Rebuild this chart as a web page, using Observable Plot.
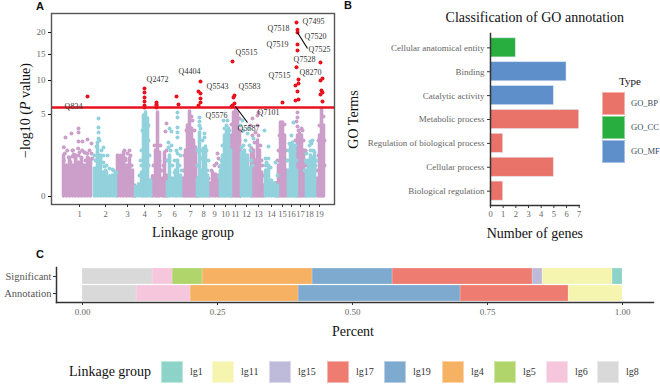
<!DOCTYPE html>
<html><head><meta charset="utf-8">
<script src="https://cdn.jsdelivr.net/npm/d3@7"></script>
<script src="https://cdn.jsdelivr.net/npm/@observablehq/plot@0.6"></script>
<style>
html,body{margin:0;padding:0;background:#fff}
#page{position:relative;width:660px;height:384px;overflow:hidden;font-family:"Liberation Serif",serif}
#page>svg,#page>div{position:absolute}
.tag{font:bold 11px "Liberation Sans",sans-serif;color:#111;line-height:11px}
.swatch{box-sizing:border-box;border:1px solid rgba(255,255,255,.45)}
.leg{white-space:nowrap;line-height:12px}
</style></head><body><div id="page"></div>
<script>
const serif = "Liberation Serif";
// ---- Panel A: Manhattan plot
const lgNames = ["1","2","3","4","5","6","7","8","9","10","11","12","13","14","15","16","17","18","19"];
const lgTicks = [28,54,76,93,108,123,139,152,163,174,184,195,207,220,231,240,249,258,268];
const yTicks = [0,5,10,15,20];
const threshold = 5.89;
// skyline of the dense mass of points (position, -log10 P reached)
const purplePos = [12,15,18,21,24,27,30,33,36,39, 66,69,72,75,78,81,83, 101,104,106,108,111,113,115, 132,134,136,138,140,142,144,146, 158,161,164,167, 180,182,184,186,188,189, 200,202,204,206,208,210,212, 225,227,229,231,233,235, 246,248,250,252,254, 266,268,270,272];
const purpleTop = [1.25,.71,1.07,.71,1.25,.86,1.07,.71,1.13,.96, 1.25,1.07,1.44,.71,1.07,.50,.09, .30,1.57,5.25,1.44,.24,1.44,.33, .24,1.57,3.75,5.37,3.44,2.33,1.79,.24, .13,.43,.36,.33, 2.77,5.25,5.76,5.25,3.24,.43, 1.71,1.57,.96,2.33,1.57,.43,.09, .13,.71,4.07,4.07,2.77,.50, 2.77,2.95,2.77,1.57,.24, .24,2.77,5.76,3.75];
const tealPos = [43,46,49,52,55,58,61,64, 84,87,90,92,94,96,99, 116,118,121,124,126,129, 146,148,150,152,154,156, 169,171,173,175,177,179, 190,193,196,199, 214,217,220,223,226, 237,239,241,243,245, 255,257,259,261,263];
const tealTop = [.58,1.93,1.25,.43,.43,.30,.33,.43, .07,.11,.43,4.88,5.25,4.52,.19, .15,1.25,.24,.50,.96,.33, .24,3.05,.50,1.71,1.86,.33, .50,1.25,2.77,3.24,3.44,1.57, 1.44,1.57,1.25,.58, .50,.71,.19,.13,.09, .50,1.93,2.17,1.71,.50, .50,.96,1.25,1.13,1.25];
// loose points around the mass
const purpleDotPos = [14,20,27,27,27,31,36,40,21,21,27,33,79,74,115,114,166,167,165,163,168,160,207,206,201,199,206,204,207,246,246,245,246,247,250,
  12.3,15.7,13.3,17.3,12.3,19,21.3,22.3,24,26.7,28,30.7,30,33.3,35.7,38,40,37.3,34,40.7,
  67,70,73,76,78,74,80,69, 102,109,108,110,103,112,115,115, 133,135,141,143,146,145,132,140, 157,
  179,179,188,189,190,180,188, 210,209,211,212,201,203, 226,227,228,234,236,233,235, 244,245,252,254,255,253,251, 265,267,267,273,273,268,272];
const purpleDotVal = [2.59,2.95,3.44,3.05,2.25,2.25,2.42,2.09,1.57,1.19,1.25,1.44,1.25,1.07,3.96,3.14,1.37,1.07,.81,.71,.67,.50,5.25,4.88,4.52,3.75,3.75,3.05,2.77,5.25,4.64,4.18,3.64,3.24,3.44,
  1.81,1.57,1.37,1.15,.96,.88,1.57,1.31,1.07,1.71,1.44,1.57,1.13,1.44,1.37,1.57,1.37,1.07,.96,1.07,
  .96,.81,1.57,1.37,1.57,.96,.71,1.25, .71,1.93,.96,.50,1.93,.71,.96,1.57, 1.25,3.24,4.30,3.24,1.57,.71,.50,4.76, .24,
  2.33,1.25,2.33,1.57,.71,3.86,4.52, .96,1.93,.71,.33,2.77,2.17, .96,1.57,2.77,1.57,.33,3.86,.96, 2.33,1.57,2.33,1.57,.71,.96,3.24, .50,2.33,1.25,2.33,.71,3.75,4.76];
const tealDotPos = [47,47,47,47,52,56,53,61,54,118,120,126,126,126,117,117,120,126,129,126,126,148,148,148,153,153,149,172,176,175,191,189,192,196,194,190,197,202,213,217,217,214,215,219,224,226,242,240,238,243,259,260,261,258,255,254,263,
  45,46,48,50,52,43,44,49,55,58,62,65,49,52, 90,89,90,91,97,97,98,97,88, 116,119,121,123,128,125,123,129,130, 146,146,150,150,155,157,151,156,
  168,170,171,178,173,169, 200,199,201,192,198, 214, 236,237,245,244, 253,255,265,264,259,262];
const tealDotVal = [4.52,3.54,3.05,2.50,1.79,1.25,.67,.54,.50,3.44,3.14,3.54,5.25,4.64,2.17,1.79,1.93,1.37,1.71,3.05,2.59,4.64,4.18,3.75,2.95,2.59,3.44,4.30,4.30,3.75,4.30,3.75,3.24,2.95,2.33,1.79,3.44,2.50,3.24,1.86,1.07,1.07,.86,.63,.86,.33,4.07,2.77,2.09,1.51,2.25,2.09,2.33,1.93,1.37,.96,1.44,
  1.86,2.17,2.33,1.57,1.25,1.25,.96,1.07,.71,.58,.50,.43,.71,.86, 1.57,.96,.71,3.24,3.75,2.33,1.25,.71,.33, .96,1.57,.71,.43,.71,1.57,.96,1.25,.50, .71,1.57,1.57,1.07,1.57,.96,2.33,.50,
  .30,.96,1.93,3.24,3.44,.71, .96,1.57,.71,1.93,1.93, .71, .96,1.57,.96,1.93, .50,.86,.96,.71,1.57,1.57];
// significant points
const redPos = [36,93,93,93,93,93,93,105,105,105,105,125,127,149,147,149,149,149,147,181,183,182,183,181,180,231,245,246,246,246,246,245,247,247,244,246,247,244,269,271,269,270,271,269,271];
const redVal = [7.44,8.67,8.04,7.29,6.71,6.16,5.89,6.57,6.3,6.16,5.89,7.44,6.29,9.84,8.2,7.89,7.14,6.57,6.16,13.55,7.59,7.29,6.43,6.16,6.02,6.57,22.5,20.7,20.0,17.2,15.85,12.4,10.18,9.5,9.16,8.2,7.0,6.85,13.35,10.35,10.0,8.36,8.04,7.74,6.71];
const labelNames = ["Q834","Q2472","Q4404","Q5543","Q5515","Q5583","Q5576","Q5587","Q7101","Q7515","Q7518","Q7519","Q7495","Q7520","Q7525","Q7528","Q8270"];
const labelPos = [22,106,138,166,195,198,165,197,217,228,227,226,262,264,268,253,259];
const labelVal = [6.02,10.18,11.6,9.0,15.4,9.0,4.88,3.44,5.25,10.9,21,17.2,22.8,19.0,16.07,13.96,11.43];
const leaderX1 = [184,246], leaderX2 = [196,256], leaderY1 = [6.02,20], leaderY2 = [4.07,16.3];
const purple = "#CC9FCB", teal = "#92D2DC", red = "#E8121E";
const idx = a => a.map((_, i) => i);
const yLabelA = "\u2212log10 (P value)";
const tickGrey = "#666";

const plotA = Plot.plot({
  width: 335, height: 245, marginLeft: 51, marginRight: 1, marginTop: 13, marginBottom: 41, insetBottom: 8,
  style: {fontFamily: serif, background: "transparent", overflow: "visible"},
  x: {domain: [0, 283]},
  y: {type: "sqrt", domain: [0, 24.9]},
  marks: [
    Plot.ruleX(idx(purplePos), {x: i => purplePos[i], y1: 0, y2: i => purpleTop[i], stroke: purple, strokeWidth: 3.6, strokeLinecap: "round"}),
    Plot.dot(idx(purpleDotPos), {x: i => purpleDotPos[i], y: i => purpleDotVal[i], r: 2, fill: purple}),
    Plot.ruleX(idx(tealPos), {x: i => tealPos[i], y1: 0, y2: i => tealTop[i], stroke: teal, strokeWidth: 3.6, strokeLinecap: "round"}),
    Plot.dot(idx(tealDotPos), {x: i => tealDotPos[i], y: i => tealDotVal[i], r: 2, fill: teal}),
    Plot.ruleY([threshold], {stroke: red, strokeWidth: 2.4}),
    Plot.dot(idx(redPos), {x: i => redPos[i], y: i => redVal[i], r: 2, fill: red}),
    Plot.link(idx(leaderX1), {x1: i => leaderX1[i], y1: i => leaderY1[i], x2: i => leaderX2[i], y2: i => leaderY2[i], stroke: "#000", strokeWidth: 1.1}),
    Plot.text(idx(labelNames), {x: i => labelPos[i], y: i => labelVal[i], text: i => labelNames[i], fontSize: 8, fill: "#333", fontFamily: serif}),
    Plot.frame({stroke: "#555", strokeWidth: 1.4}),
    Plot.axisX({ticks: lgTicks, tickFormat: (d) => lgNames[lgTicks.indexOf(d)], label: null, tickSize: 3, tickPadding: 3, fontSize: 8.5, color: tickGrey, stroke: "#333"}),
    Plot.axisY({ticks: yTicks, tickFormat: d => String(d), label: null, tickSize: 3, tickPadding: 3, fontSize: 9, color: tickGrey, stroke: "#111"}),
    Plot.text(["Linkage group"], {frameAnchor: "bottom", dy: 32, fontSize: 14, fill: "#111", fontFamily: serif}),
    Plot.text([yLabelA], {frameAnchor: "left", textAnchor: "middle", dx: -26, dy: 1.5, rotate: -90, fontSize: 14, fill: "#111", fontFamily: serif})
  ]
});
d3.select(plotA).selectAll("text").filter(function(){return this.textContent === yLabelA}).each(function(){
  const t = d3.select(this); t.text(null);
  t.append("tspan").text("\u2212log10 (");
  t.append("tspan").attr("font-style", "italic").text("P");
  t.append("tspan").text(" value)");
});
plotA.style.left = "0px"; plotA.style.top = "0px";

// ---- Panel B
const goTerms = ["Cellular anatomical entity","Binding","Catalytic activity","Metabolic process","Regulation of biological process","Cellular process","Biological regulation"];
const goCounts = [2,6,5,7,1,5,1];
const goTypes = ["GO_CC","GO_MF","GO_MF","GO_BP","GO_BP","GO_BP","GO_BP"];
const typeNames = ["GO_BP","GO_CC","GO_MF"];
const typeColors = ["#EA7369","#27AE3F","#5F8FCB"];
const plotB = Plot.plot({
  width: 240, height: 245, marginLeft: 145, marginRight: 6.3, marginTop: 33, marginBottom: 40,
  style: {fontFamily: serif, background: "transparent", overflow: "visible"},
  x: {domain: [0, 7]},
  y: {domain: goTerms, padding: 0.2, round: false},
  color: {domain: typeNames, range: typeColors},
  marks: [
    Plot.barX(idx(goTerms), {y: i => goTerms[i], x: i => goCounts[i], fill: i => goTypes[i], stroke: "#dfe8f2", strokeOpacity: .7, strokeWidth: .8}),
    Plot.frame({anchor: "left", stroke: "#333", strokeWidth: 1.5}),
    Plot.frame({anchor: "bottom", stroke: "#333", strokeWidth: 1.5}),
    Plot.axisX({ticks: d3.range(0, 8), tickFormat: d => String(d), label: null, tickSize: 3, tickPadding: 2, fontSize: 8.5, color: tickGrey, stroke: "#333"}),
    Plot.axisY({label: null, tickSize: 3, tickPadding: 3, fontSize: 9, color: tickGrey, stroke: "#333"}),
    Plot.text(["Number of genes"], {frameAnchor: "bottom", dy: 32, fontSize: 14, fill: "#111", fontFamily: serif}),
    Plot.text(["Classification of GO annotation"], {frameAnchor: "top", dy: -21, fontSize: 14, fill: "#111", fontFamily: serif}),
    Plot.text(["GO Terms"], {frameAnchor: "left", textAnchor: "middle", dx: -137, dy: 0, rotate: -90, fontSize: 14, fill: "#111", fontFamily: serif})
  ]
});
plotB.style.left = "345px"; plotB.style.top = "0px";

// ---- Panel C
const lgKeys = ["lg1","lg11","lg15","lg17","lg19","lg4","lg5","lg6","lg8"];
const lgColors = ["#8DD3C7","#F6F5B0","#BEBADA","#EE7C70","#7FAACF","#F7B163","#B0D56B","#F5C6DC","#D9D9D9"];
const stackOrder = ["lg8","lg6","lg5","lg4","lg19","lg17","lg15","lg11","lg1"];
const sigCounts = [1,7,1,14,8,11,3,2,7];
const annCounts = [0,1,0,2,3,2,0,1,1];
const rows = lgKeys.flatMap((k, i) => [
  {row: "Significant", lg: k, n: sigCounts[i]},
  {row: "Annotation", lg: k, n: annCounts[i]}
]).filter(d => d.n > 0);
const plotC = Plot.plot({
  width: 660, height: 100, marginLeft: 56, marginRight: 7, marginTop: 22, marginBottom: 43, insetLeft: 26, insetRight: 31,
  style: {fontFamily: serif, background: "transparent", overflow: "visible"},
  x: {domain: [0, 1]},
  y: {domain: ["Significant","Annotation"], padding: 0.06, round: false},
  color: {domain: lgKeys, range: lgColors},
  marks: [
    Plot.barX(rows, {y: "row", x: "n", fill: "lg", z: "lg", order: stackOrder, offset: "normalize", stroke: "#fff", strokeOpacity: .35, strokeWidth: .6}),
    Plot.frame({anchor: "left", stroke: "#333", strokeWidth: 1.5}),
    Plot.frame({anchor: "bottom", stroke: "#333", strokeWidth: 1.5}),
    Plot.axisX({ticks: [0,.25,.5,.75,1], tickFormat: d3.format(".2f"), label: null, tickSize: 3, tickPadding: 3, fontSize: 9, color: tickGrey, stroke: "#333"}),
    Plot.axisY({label: null, tickSize: 3, tickPadding: 2, fontSize: 10.5, color: "#555", stroke: "#333"}),
    Plot.text(["Percent"], {frameAnchor: "bottom", dy: 33, dx: -2, fontSize: 14, fill: "#111", fontFamily: serif})
  ]
});
plotC.style.left = "0px"; plotC.style.top = "245px";

const page = document.getElementById("page");
page.append(plotA, plotB, plotC);
function add(cls, css, text){ const d = document.createElement("div"); d.className = cls; d.style.cssText = css; if(text) d.textContent = text; page.append(d); return d; }
add("tag", "left:36px;top:1px", "A");
add("tag", "left:344px;top:0px", "B");
add("tag", "left:36px;top:249px", "C");
// legend of panel B
add("leg", "left:619px;top:75px;font-size:11px;color:#111", "Type");
typeNames.forEach((n, i) => {
  add("swatch", `left:602px;top:${92 + 24 * i}px;width:23px;height:23px;background:${typeColors[i]}`);
  add("leg", `left:631px;top:${97 + 24 * i}px;font-size:8.5px;color:#3a4a5a`, n);
});
// legend of panel C
add("leg", "left:69px;top:366px;font-size:14px;color:#111", "Linkage group");
const swX = [161,212,269,327,384,442,494,546,597];
lgKeys.forEach((n, i) => {
  add("swatch", `left:${swX[i]}px;top:361px;width:22px;height:22px;background:${lgColors[i]}`);
  add("leg", `left:${swX[i] + 29}px;top:366px;font-size:10px;color:#333`, n);
});
</script></body></html>
